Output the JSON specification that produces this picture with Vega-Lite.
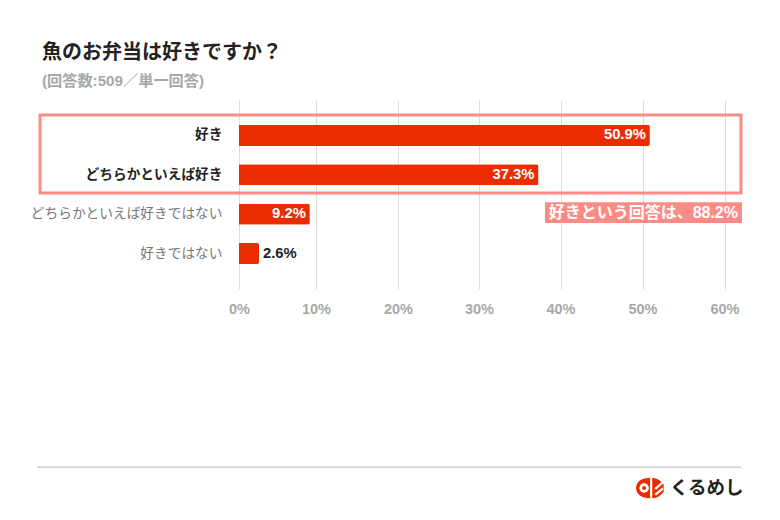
{
  "$schema": "https://vega.github.io/schema/vega-lite/v6.json",
  "autosize": "none",
  "padding": {"left": 239, "top": 100, "right": 55.5, "bottom": 231},
  "width": 485.5,
  "height": 189,
  "background": "white",
  "config": {
    "view": {"stroke": null},
    "font": "Liberation Sans, Noto Sans CJK JP"
  },
  "title": {
    "text": "魚のお弁当は好きですか？",
    "subtitle": "(回答数:509／単一回答)",
    "anchor": "start",
    "frame": "group",
    "dx": -197,
    "offset": 11,
    "font": "Noto Sans CJK JP",
    "fontSize": 20,
    "fontWeight": "bold",
    "color": "#222222",
    "subtitleFont": "Liberation Sans, Noto Sans CJK JP",
    "subtitleFontSize": 15.2,
    "subtitleFontWeight": "bold",
    "subtitleColor": "#a8a8a8",
    "subtitlePadding": 11
  },
  "datasets": {
    "answers": [
      {"answer": "好き", "share": 50.9, "label": "50.9%"},
      {"answer": "どちらかといえば好き", "share": 37.3, "label": "37.3%"},
      {"answer": "どちらかといえば好きではない", "share": 9.2, "label": "9.2%"},
      {"answer": "好きではない", "share": 2.6, "label": "2.6%"}
    ]
  },
  "resolve": {"scale": {"y": "independent"}},
  "layer": [
    {
      "data": {"name": "answers"},
      "mark": {"type": "bar", "color": "#ea2c00", "cornerRadiusEnd": 2},
      "encoding": {
        "x": {
          "field": "share",
          "type": "quantitative",
          "scale": {"domain": [0, 10, 20, 30, 40, 50, 60], "range": [0, 77, 159, 240, 321.5, 403.5, 485.5]},
          "axis": {
            "title": null,
            "values": [0, 10, 20, 30, 40, 50, 60],
            "labelExpr": "datum.value + '%'",
            "labelFlush": false,
            "domain": false,
            "ticks": false,
            "grid": true,
            "gridColor": "#dddddd",
            "labelColor": "#a8a8a8",
            "labelFontSize": 14.5,
            "labelFontWeight": "bold",
            "labelPadding": 13
          }
        },
        "y": {
          "field": "answer",
          "type": "nominal",
          "sort": null,
          "scale": {"paddingInner": 0.467, "paddingOuter": 0.632},
          "axis": {
            "title": null,
            "domain": false,
            "ticks": false,
            "grid": false,
            "labelPadding": 17,
            "labelFont": "Noto Sans CJK JP",
            "labelFontSize": 13.7,
            "labelLimit": 240,
            "labelFontWeight": {"condition": {"test": "datum.value === '好き' || datum.value === 'どちらかといえば好き'", "value": "bold"}, "value": "normal"},
            "labelColor": {"condition": {"test": "datum.value === '好き' || datum.value === 'どちらかといえば好き'", "value": "#222222"}, "value": "#777777"}
          }
        }
      }
    },
    {
      "data": {"name": "answers"},
      "transform": [{"filter": "datum.share > 5"}],
      "mark": {"type": "text", "align": "right", "dx": -4, "color": "white", "fontSize": 14.8, "fontWeight": "bold"},
      "encoding": {
        "x": {"field": "share", "type": "quantitative", "title": null, "scale": {"domain": [0, 10, 20, 30, 40, 50, 60], "range": [0, 77, 159, 240, 321.5, 403.5, 485.5]}},
        "y": {"field": "answer", "type": "nominal", "scale": {"type": "band", "domain": ["好き", "どちらかといえば好き", "どちらかといえば好きではない", "好きではない"], "paddingInner": 0.467, "paddingOuter": 0.632}, "axis": null},
        "text": {"field": "label"}
      }
    },
    {
      "data": {"name": "answers"},
      "transform": [{"filter": "datum.share <= 5"}],
      "mark": {"type": "text", "align": "left", "dx": 4, "color": "#222222", "fontSize": 14.8, "fontWeight": "bold"},
      "encoding": {
        "x": {"field": "share", "type": "quantitative", "title": null, "scale": {"domain": [0, 10, 20, 30, 40, 50, 60], "range": [0, 77, 159, 240, 321.5, 403.5, 485.5]}},
        "y": {"field": "answer", "type": "nominal", "scale": {"type": "band", "domain": ["好き", "どちらかといえば好き", "どちらかといえば好きではない", "好きではない"], "paddingInner": 0.467, "paddingOuter": 0.632}, "axis": null},
        "text": {"field": "label"}
      }
    },
    {
      "data": {"values": [{"x": -25.84, "x2": 62.01, "y": 0.505, "y2": 2.485}]},
      "mark": {"type": "rect", "fill": null, "stroke": "#fb8b84", "strokeWidth": 3},
      "encoding": {
        "x": {"field": "x", "type": "quantitative", "title": null, "scale": {"domain": [0, 10, 20, 30, 40, 50, 60], "range": [0, 77, 159, 240, 321.5, 403.5, 485.5]}},
        "x2": {"field": "x2"},
        "y": {"field": "y", "type": "quantitative", "scale": {"domain": [0.124, 4.92], "reverse": true, "nice": false, "zero": false}, "axis": null},
        "y2": {"field": "y2"}
      }
    },
    {
      "data": {"values": [{"x": 38.1, "x2": 62.13, "y": 2.72, "y2": 3.245}]},
      "mark": {"type": "rect", "fill": "#fb8b84"},
      "encoding": {
        "x": {"field": "x", "type": "quantitative", "title": null, "scale": {"domain": [0, 10, 20, 30, 40, 50, 60], "range": [0, 77, 159, 240, 321.5, 403.5, 485.5]}},
        "x2": {"field": "x2"},
        "y": {"field": "y", "type": "quantitative", "scale": {"domain": [0.124, 4.92], "reverse": true, "nice": false, "zero": false}, "axis": null},
        "y2": {"field": "y2"}
      }
    },
    {
      "data": {"values": [{"x": 50.1, "y": 2.98, "note": "好きという回答は、88.2%"}]},
      "mark": {"type": "text", "color": "white", "fontSize": 16, "fontWeight": "bold"},
      "encoding": {
        "x": {"field": "x", "type": "quantitative", "title": null, "scale": {"domain": [0, 10, 20, 30, 40, 50, 60], "range": [0, 77, 159, 240, 321.5, 403.5, 485.5]}},
        "y": {"field": "y", "type": "quantitative", "scale": {"domain": [0.124, 4.92], "reverse": true, "nice": false, "zero": false}, "axis": null},
        "text": {"field": "note"}
      }
    },
    {
      "data": {"values": [{"x": -26.23, "x2": 62.01, "y": 9.44}]},
      "mark": {"type": "rule", "color": "#b4b4b4", "strokeWidth": 1},
      "encoding": {
        "x": {"field": "x", "type": "quantitative", "title": null, "scale": {"domain": [0, 10, 20, 30, 40, 50, 60], "range": [0, 77, 159, 240, 321.5, 403.5, 485.5]}},
        "x2": {"field": "x2"},
        "y": {"field": "y", "type": "quantitative", "scale": {"domain": [0.124, 4.92], "reverse": true, "nice": false, "zero": false}, "axis": null}
      }
    },
    {
      "data": {"values": [{"x": 53.35, "y": 9.97, "brand": "くるめし"}]},
      "mark": {"type": "text", "align": "left", "font": "Noto Sans CJK JP", "fontSize": 18.5, "fontWeight": "bold", "color": "#222222"},
      "encoding": {
        "x": {"field": "x", "type": "quantitative", "title": null, "scale": {"domain": [0, 10, 20, 30, 40, 50, 60], "range": [0, 77, 159, 240, 321.5, 403.5, 485.5]}},
        "y": {"field": "y", "type": "quantitative", "scale": {"domain": [0.124, 4.92], "reverse": true, "nice": false, "zero": false}, "axis": null},
        "text": {"field": "brand"}
      }
    },
    {
      "data": {"values": [{"x": 50.9, "y": 9.97}]},
      "mark": {"type": "point", "filled": true, "color": "#ea2c00", "opacity": 1, "shape": "M-1,0 C-1,-0.55 -0.5,-0.75 0.1,-0.75 C0.6,-0.75 0.85,-0.45 1,-0.25 L1,0.25 C0.85,0.45 0.6,0.75 0.1,0.75 C-0.5,0.75 -1,0.55 -1,0 Z", "size": 760},
      "encoding": {
        "x": {"field": "x", "type": "quantitative", "title": null, "scale": {"domain": [0, 10, 20, 30, 40, 50, 60], "range": [0, 77, 159, 240, 321.5, 403.5, 485.5]}},
        "y": {"field": "y", "type": "quantitative", "scale": {"domain": [0.124, 4.92], "reverse": true, "nice": false, "zero": false}, "axis": null}
      }
    },
    {
      "data": {"values": [{"x": 50.2, "y": 9.97}]},
      "mark": {"type": "point", "filled": true, "color": "white", "opacity": 1, "shape": "circle", "size": 90},
      "encoding": {
        "x": {"field": "x", "type": "quantitative", "title": null, "scale": {"domain": [0, 10, 20, 30, 40, 50, 60], "range": [0, 77, 159, 240, 321.5, 403.5, 485.5]}},
        "y": {"field": "y", "type": "quantitative", "scale": {"domain": [0.124, 4.92], "reverse": true, "nice": false, "zero": false}, "axis": null}
      }
    },
    {
      "data": {"values": [{"x": 50.2, "y": 9.97}]},
      "mark": {"type": "point", "filled": true, "color": "#ea2c00", "opacity": 1, "shape": "circle", "size": 16},
      "encoding": {
        "x": {"field": "x", "type": "quantitative", "title": null, "scale": {"domain": [0, 10, 20, 30, 40, 50, 60], "range": [0, 77, 159, 240, 321.5, 403.5, 485.5]}},
        "y": {"field": "y", "type": "quantitative", "scale": {"domain": [0.124, 4.92], "reverse": true, "nice": false, "zero": false}, "axis": null}
      }
    },
    {
      "data": {"values": [{"x": 51.5, "y": 9.97}]},
      "mark": {"type": "point", "filled": false, "stroke": "white", "strokeWidth": 2.2, "opacity": 1, "shape": "M-0.45,-1.3 L-0.45,1.3 M0.05,0.1 L1,-0.7 M0.05,0.85 L1,0.05", "size": 260},
      "encoding": {
        "x": {"field": "x", "type": "quantitative", "title": null, "scale": {"domain": [0, 10, 20, 30, 40, 50, 60], "range": [0, 77, 159, 240, 321.5, 403.5, 485.5]}},
        "y": {"field": "y", "type": "quantitative", "scale": {"domain": [0.124, 4.92], "reverse": true, "nice": false, "zero": false}, "axis": null}
      }
    }
  ]
}
